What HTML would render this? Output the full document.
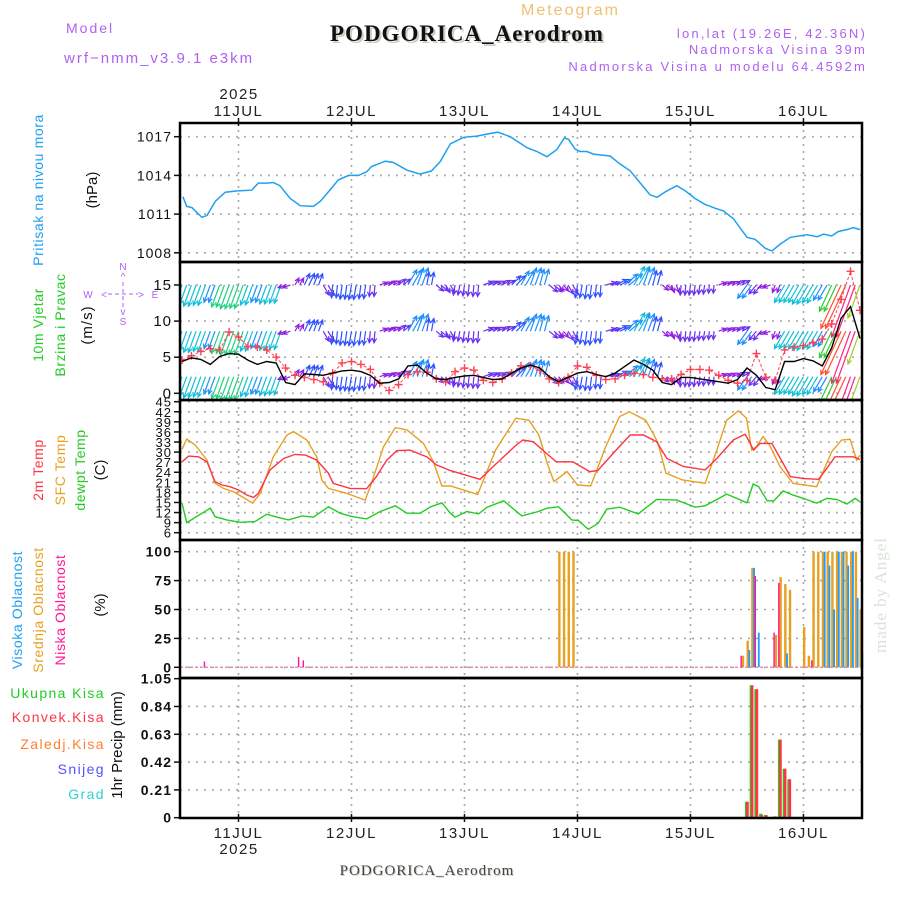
<!DOCTYPE html>
<html><head><meta charset="utf-8"><style>
html,body{margin:0;padding:0;background:#fff;}
svg{display:block;font-family:"Liberation Sans",sans-serif;}
</style></head><body>
<svg id="chart" xmlns="http://www.w3.org/2000/svg" width="900" height="900" viewBox="0 0 900 900">
<defs><clipPath id="windClip"><rect x="180" y="262" width="682" height="138"/></clipPath></defs>
<g id="grid"></g>
<g id="marks"></g>
<g id="frames"></g>
<g id="labels" font-family="Liberation Sans, sans-serif">
  <text x="66" y="33" fill="#b060f0" font-size="14" letter-spacing="2">Model</text>
  <text x="64" y="63" fill="#b060f0" font-size="15" letter-spacing="2">wrf−nmm_v3.9.1 e3km</text>
  <text x="521" y="15" fill="#f0c070" font-size="16" letter-spacing="2">Meteogram</text>
  <text x="332" y="43" fill="#c8d0c0" font-size="23" font-weight="bold" font-family="Liberation Serif, serif" letter-spacing="1">PODGORICA_Aerodrom</text>
  <text x="330" y="41" fill="#111" font-size="23" font-weight="bold" font-family="Liberation Serif, serif" letter-spacing="1">PODGORICA_Aerodrom</text>
  <text x="867" y="38" fill="#b060f0" font-size="13" letter-spacing="2.2" text-anchor="end">lon,lat (19.26E, 42.36N)</text>
  <text x="867" y="54" fill="#b060f0" font-size="13" letter-spacing="2.2" text-anchor="end">Nadmorska Visina 39m</text>
  <text x="867" y="71" fill="#b060f0" font-size="13" letter-spacing="2.2" text-anchor="end">Nadmorska Visina u modelu 64.4592m</text>
  <text x="239" y="99" font-size="15" letter-spacing="1.5" text-anchor="middle" fill="#222">2025</text>
  <text x="239" y="854" font-size="15" letter-spacing="1.5" text-anchor="middle" fill="#222">2025</text>
  <text x="428" y="876" fill="#c8d0c0" font-size="15" font-family="Liberation Serif, serif" letter-spacing="1" text-anchor="middle">PODGORICA_Aerodrom</text>
  <text x="427" y="875" fill="#444" font-size="15" font-family="Liberation Serif, serif" letter-spacing="1" text-anchor="middle">PODGORICA_Aerodrom</text>
  <text transform="translate(43,190) rotate(-90)" text-anchor="middle" fill="#1ea0f0" font-size="14" letter-spacing="0.6">Pritisak na nivou mora</text>
  <text transform="translate(97,190) rotate(-90)" text-anchor="middle" fill="#111" font-size="15">(hPa)</text>
  <text transform="translate(43,325) rotate(-90)" text-anchor="middle" fill="#22cc22" font-size="14" letter-spacing="0.6">10m Vjetar</text>
  <text transform="translate(65,325) rotate(-90)" text-anchor="middle" fill="#22cc22" font-size="14" letter-spacing="0.6">Brzina i Pravac</text>
  <text transform="translate(92,325) rotate(-90)" text-anchor="middle" fill="#111" font-size="15" letter-spacing="1">(m/s)</text>
  <g fill="#b060f0" font-size="10">
    <text x="123" y="270" text-anchor="middle">N</text>
    <text x="123" y="280" text-anchor="middle">^</text>
    <text x="88" y="298" text-anchor="middle">W</text>
    <text x="155" y="298" text-anchor="middle">E</text>
    <text x="104" y="298" text-anchor="middle">&lt;</text>
    <text x="141" y="298" text-anchor="middle">&gt;</text>
    <text x="123" y="315" text-anchor="middle">v</text>
    <text x="123" y="325" text-anchor="middle">S</text>
    <line x1="108" y1="294" x2="138" y2="294" stroke="#b060f0" stroke-dasharray="4 3"/>
    <line x1="123" y1="282" x2="123" y2="308" stroke="#b060f0" stroke-dasharray="4 3"/>
  </g>
  <text transform="translate(43,470) rotate(-90)" text-anchor="middle" fill="#ff3344" font-size="14" letter-spacing="0.6">2m Temp</text>
  <text transform="translate(65,470) rotate(-90)" text-anchor="middle" fill="#e8a020" font-size="14" letter-spacing="0.6">SFC Temp</text>
  <text transform="translate(85,470) rotate(-90)" text-anchor="middle" fill="#22cc22" font-size="14" letter-spacing="0.6">dewpt Temp</text>
  <text transform="translate(105,470) rotate(-90)" text-anchor="middle" fill="#111" font-size="15">(C)</text>
  <text transform="translate(22,610) rotate(-90)" text-anchor="middle" fill="#1ea0f0" font-size="14" letter-spacing="0.6">Visoka Oblacnost</text>
  <text transform="translate(43,610) rotate(-90)" text-anchor="middle" fill="#e8a020" font-size="14" letter-spacing="0.6">Srednja Oblacnost</text>
  <text transform="translate(65,610) rotate(-90)" text-anchor="middle" fill="#ff1493" font-size="14" letter-spacing="0.6">Niska Oblacnost</text>
  <text transform="translate(105,605) rotate(-90)" text-anchor="middle" fill="#111" font-size="15">(%)</text>
  <g font-size="14" letter-spacing="1.4" text-anchor="end">
    <text x="105" y="698" fill="#22cc22">Ukupna  Kisa</text>
    <text x="105" y="722" fill="#ff3344">Konvek.Kisa</text>
    <text x="105" y="749" fill="#ff7f30">Zaledj.Kisa</text>
    <text x="105" y="774" fill="#5050ff">Snijeg</text>
    <text x="105" y="799" fill="#30d0d0">Grad</text>
  </g>
  <text transform="translate(122,745) rotate(-90)" text-anchor="middle" fill="#111" font-size="15">1hr Precip (mm)</text>
  <text transform="translate(886,595) rotate(-90)" text-anchor="middle" fill="#d8e4d8" font-size="17" font-family="Liberation Serif, serif" letter-spacing="1">made by Angel</text>
</g>
</svg>
<script>
// ---------- data ----------
var dayLabels = ["11JUL","12JUL","13JUL","14JUL","15JUL","16JUL"];
var pressureTicks = [1008,1011,1014,1017];
var windTicks = [0,5,10,15];
var tempTicks = [6,9,12,15,18,21,24,27,30,33,36,39,42,45];
var cloudTicks = [0,25,50,75,100];
var precipTicks = [0,0.21,0.42,0.63,0.84,1.05];

var pressureHours = [-11.8,-11,-9.9,-7.8,-6.7,-4.9,-2.8,-0.3,2.8,4.2,6,7.4,8.8,11,13.1,15.9,17.4,19.5,21.2,23.4,25.5,27.3,28.3,31.2,32.9,35.8,38.6,41,42.8,45,47.8,50.6,52.7,55.1,57.7,61.3,63.4,65.5,67.6,69.2,70.1,71.5,72.6,74,75.4,78.9,81,83.2,85.7,87.4,88.9,91,93.1,94.9,97,99.1,101.3,103,105.1,108,109.7,111.9,113.3,115,117.2,120.7,122.9,124.3,126,127.4,129.2,130.6,132];
var pressureValues = [1012.35,1011.6,1011.5,1010.75,1010.9,1012.0,1012.7,1012.8,1012.85,1013.4,1013.4,1013.45,1013.2,1012.2,1011.65,1011.6,1012.0,1012.9,1013.65,1014.0,1014.0,1014.3,1014.7,1015.1,1015.0,1014.4,1014.1,1014.35,1015.05,1016.45,1016.95,1017.05,1017.2,1017.35,1017.0,1016.15,1015.85,1015.45,1016.0,1016.9,1016.8,1016.05,1015.85,1015.85,1015.65,1015.5,1014.9,1014.35,1013.25,1012.5,1012.3,1012.8,1013.2,1012.8,1012.2,1011.75,1011.45,1011.25,1010.65,1009.2,1009.05,1008.35,1008.15,1008.65,1009.2,1009.4,1009.25,1009.45,1009.3,1009.65,1009.8,1009.95,1009.8];

var windStartHour = -12, windStepHours = 2;
var windSpeed = [4.4,4.9,4.7,4.0,5.1,5.5,5.4,4.6,4.0,4.4,
 4.2,1.5,1.2,2.7,2.6,2.5,2.8,3.1,3.2,3.0,
 2.5,1.4,1.5,2.0,3.8,3.9,2.8,2.0,1.9,2.2,
 2.4,2.5,2.2,1.9,2.0,2.8,3.5,3.9,3.5,2.3,
 1.6,2.2,2.8,3.0,2.6,2.3,2.8,3.7,4.6,4.0,
 3.2,1.5,1.2,2.2,2.2,2.0,1.8,1.6,1.4,1.9,
 3.5,2.5,0.8,0.5,4.4,4.4,4.8,4.5,3.8,6.3,
 10.4,12.0,7.6];
var windGust = [4.6,5.2,5.8,6.2,6.0,8.5,7.8,6.5,6.4,6.0,
 5.0,3.5,2.5,2.2,1.9,1.6,2.8,4.2,4.4,4.0,
 3.3,1.4,0.4,1.2,2.6,3.0,2.9,2.0,1.6,3.0,
 3.5,3.2,1.8,1.5,2.0,2.8,3.8,3.8,3.2,2.0,
 1.5,2.2,3.8,3.6,2.5,1.9,2.0,2.5,2.8,2.6,
 2.2,2.0,2.0,2.6,3.3,3.3,3.2,2.5,1.8,1.4,
 1.8,5.5,2.2,1.8,6.0,6.4,6.6,7.0,7.5,9.6,
 13.0,16.9,11.5];
var windDir = [250,250,250,250,250,250,250,250,250,250,
 250,200,60,65,70,300,265,262,260,262,
 265,20,30,40,60,70,80,320,300,260,
 262,265,20,25,30,45,60,70,75,320,
 310,300,260,262,265,15,25,40,60,70,
 75,320,290,265,262,262,265,20,25,30,
 235,230,200,250,240,240,240,240,240,245,
 245,250,250];
var windRowLevels = [15, 8.6, 2.3];

var t2m = [[-12,27.1],[-10.6,28.8],[-8.5,28.6],[-6.7,27.1],[-5,21.2],[-3.5,20.2],[-1.8,19.7],[0,18.7],[1.8,17.2],[3.2,16.5],[4.2,17.7],[6.7,24.7],[9.6,28.1],[12,29.3],[14.2,29.1],[16.6,27.6],[19.1,23.7],[20.1,20.7],[23.7,19.2],[27.2,19.1],[29.3,22.7],[31.5,27.6],[33.6,30.4],[36.4,30.6],[40,28.6],[42,26.2],[45,24.5],[51.3,21.9],[54.1,25.7],[59,32.1],[60.4,33.6],[62.6,33.1],[65.4,29.6],[67.5,27.1],[71,27.1],[74.6,24.2],[76.3,24.5],[80.2,30.6],[83.2,35.1],[86,35.1],[88.8,33.1],[91,28.1],[94.5,25.7],[99.1,24.7],[101.6,28.1],[105.1,33.6],[107.6,35.3],[108.3,33.6],[109.4,30.6],[110.8,32.6],[113.3,32.6],[115.7,26.6],[117.2,22.7],[120,22.1],[123.2,21.9],[125,25.2],[126.7,28.6],[130.6,28.6],[132,27.8]];
var tSfc = [[-12,30.8],[-11,33.9],[-9.2,32.1],[-6.7,27.6],[-5,20.7],[-3.2,19.2],[-1.1,18.2],[1,16.5],[3,14.8],[4.6,17.7],[7.4,28.6],[10.3,35.1],[11.7,36.1],[14.5,33.6],[16.6,28.6],[17.7,21.7],[19.1,19.2],[23,17.7],[26.9,15.7],[28,19.7],[30.8,31.6],[33.3,37.3],[35.8,36.6],[39.3,32.6],[41.4,27.1],[43.2,19.9],[45,19.9],[50.8,17.4],[54.6,30.6],[58.9,40.1],[61.7,39.5],[63.8,35.1],[65.6,26.6],[67,21.2],[69.8,24.2],[72,20.2],[74.8,19.9],[78,31.6],[80.9,40.5],[83,42],[86.5,39.5],[89,33.1],[90.8,23.7],[94.3,21.7],[99.1,20.7],[101.6,30.6],[103.7,39.5],[106.2,42.3],[107.9,40.1],[109,30.6],[110,31.6],[111.4,34.6],[112.8,32.1],[115,25.7],[117.8,20.7],[122.8,19.7],[126,30.1],[128.1,33.6],[129.9,33.8],[131.3,27.6],[132,29.1]];
var tDew = [[-12,14.8],[-11,9],[-6,13.3],[-5,10.8],[-2.5,9.8],[0.4,9.1],[3.5,9.3],[6,11.5],[8.2,10.6],[10.6,9.8],[13.5,11],[15.9,10.6],[19.1,13.7],[21.6,11.8],[24.1,10.8],[27.2,10.1],[30.1,12.3],[33.3,14],[35.8,11.8],[38.6,11.8],[40.8,13.7],[43.2,14.9],[45,11.8],[46,10.6],[48.5,12.3],[51,11.6],[52.8,13.6],[56.3,15.5],[60.2,11],[63.7,12.3],[65.5,13.3],[68,13.7],[70.8,9.8],[72.2,9.6],[74.3,7],[76.4,8.8],[78.2,13],[81,13.6],[84.9,11.6],[88.8,15.9],[93.1,15.7],[97,13.6],[99.1,14],[103.7,17.5],[108,14.9],[109.3,20.5],[110.5,19.7],[112.3,15.5],[113.7,15.5],[115.7,18.4],[117.8,17.2],[120,16.2],[122.8,14.8],[125,16.2],[127.1,15.9],[129.2,14.5],[131,16.2],[132,15.2]];

var cloudHours = [-7,13,14,68,69,70,71,107,108,109,110,114,115,116,117,120,121,122,123,124,125,126,127,128,129,130,131,132];
var cloudHigh  = [0,0,0,0,0,0,0,0,15,86,30,0,0,12,0,0,0,0,0,100,88,50,100,100,88,100,60,12];
var cloudMid   = [0,0,0,100,100,100,100,10,23,86,0,28,78,72,67,35,10,100,100,100,100,100,100,100,100,100,100,50];
var cloudLow   = [5,9,6,0,0,0,0,10,0,0,79,30,73,0,0,0,0,6,0,0,0,0,0,0,0,0,0,0];

var precipHours = [108,109,110,111,112,114,115,116,117];
var precipTotal = [0.12,1.0,0.97,0.03,0.02,0.01,0.59,0.37,0.29];
var precipConv  = [0.12,1.0,0.97,0.02,0.02,0.0,0.59,0.37,0.29];

// ---------- scales ----------
var L = 180, R = 862;
function X(h){ return 238.5 + h * 4.708; }
function yP(v){ return 136.7 + (1017 - v) * 12.9; }
function yW(v){ return 393.3 - v * 7.22; }
function yT(v){ return 532.7 - (v - 6) * 3.359; }
function yC(v){ return 667.3 - v * 1.156; }
function yR(v){ return 817.7 - v * 132.4; }

var NS = "http://www.w3.org/2000/svg";
function mk(tag, attrs, parent){
  var e = document.createElementNS(NS, tag);
  for (var k in attrs) e.setAttribute(k, attrs[k]);
  parent.appendChild(e);
  return e;
}
var grid = document.getElementById("grid");
var marks = document.getElementById("marks");
var frames = document.getElementById("frames");
var labels = document.getElementById("labels");

var panels = [
  {top:123, bot:262, ticks:pressureTicks, y:yP, fmt:function(v){return String(v);}, name:"pressure", bold:false, fs:14},
  {top:262, bot:400, ticks:windTicks, y:yW, fmt:function(v){return String(v);}, name:"wind", bold:false, fs:15},
  {top:400, bot:540, ticks:tempTicks, y:yT, fmt:function(v){return String(v);}, name:"temp", bold:false, fs:13},
  {top:540, bot:678, ticks:cloudTicks, y:yC, fmt:function(v){return String(v);}, name:"cloud", bold:true, fs:14},
  {top:678, bot:818, ticks:precipTicks, y:yR, fmt:function(v){return v===0?"0":v.toFixed(2);}, name:"precip", bold:true, fs:14}
];

panels.forEach(function(p){
  p.ticks.forEach(function(t){
    var y = p.y(t);
    var gl = mk("line",{x1:L,x2:R,y1:y,y2:y,stroke:"#a8a8a8","stroke-width":1.6,"stroke-dasharray":"2 6"},grid);
    
    
    var tk = mk("line",{x1:L-6,x2:L,y1:y,y2:y,stroke:"#111","stroke-width":1.5},frames);
    
    
    var tx = mk("text",{x:L-8,y:y+5,"text-anchor":"end","font-size":p.fs,"font-weight":p.bold?"bold":"normal","letter-spacing":"1",fill:"#111"},labels);
    tx.textContent = p.fmt(t);
    
    
  });
  dayLabels.forEach(function(d,i){
    var x = X(i*24);
    var vl = mk("line",{x1:x,x2:x,y1:p.top,y2:p.bot,stroke:"#a8a8a8","stroke-width":1.6,"stroke-dasharray":"2 5"},grid);
    
    
  });
  var fr = mk("rect",{x:L,y:p.top,width:R-L,height:p.bot-p.top,fill:"none",stroke:"#000","stroke-width":2.5},frames);
  
  
});

dayLabels.forEach(function(d,i){
  var x = X(i*24);
  var t1 = mk("text",{x:x,y:116,"text-anchor":"middle","font-size":15,"letter-spacing":"1.5",fill:"#222"},labels);
  t1.textContent = d;
  
  
  var t2 = mk("text",{x:x,y:838,"text-anchor":"middle","font-size":15,"letter-spacing":"1.5",fill:"#222"},labels);
  t2.textContent = d;
  
  
  var tt = mk("line",{x1:x,x2:x,y1:118,y2:126,stroke:"#111","stroke-width":1.5},frames);
  
  
  var tb = mk("line",{x1:x,x2:x,y1:814,y2:822,stroke:"#111","stroke-width":1.5},frames);
  
  
});

function pathFrom(hours, vals, yf){
  var d = "";
  for (var i=0;i<hours.length;i++) d += (i?"L":"M") + X(hours[i]).toFixed(1) + "," + yf(vals[i]).toFixed(1);
  return d;
}
function pathPairs(pairs, yf){
  return pairs.map(function(p,i){ return (i?"L":"M") + X(p[0]).toFixed(1) + "," + yf(p[1]).toFixed(1); }).join("");
}

// pressure
var pl = mk("path",{d:pathFrom(pressureHours,pressureValues,yP),fill:"none",stroke:"#1ea0f0","stroke-width":1.5},marks);



// wind
function speedColor(s){
  if (s < 1.7) return "#9020e0";
  if (s < 2.6) return "#6a30f0";
  if (s < 3.4) return "#3050ff";
  if (s < 4.1) return "#1e90ff";
  if (s < 5.0) return "#10c0d8";
  if (s < 5.8) return "#20d080";
  if (s < 7.0) return "#30cc30";
  if (s < 8.5) return "#a0d020";
  if (s < 10) return "#f0a020";
  if (s < 11.5) return "#ff5030";
  return "#ff2080";
}
var wg = mk("g",{"clip-path":"url(#windClip)"},marks);


function drawArrow(h, s, dir, lv){
  var len = Math.max(8, 4.6*s);
  var a = dir*Math.PI/180;
  var x0 = X(h), y0 = yW(lv);
  var x1 = x0 + len*Math.cos(a), y1 = y0 - len*Math.sin(a);
  var c = speedColor(s);
  var ar = mk("path",{d:"M"+x0.toFixed(1)+","+y0.toFixed(1)+"L"+x1.toFixed(1)+","+y1.toFixed(1)+
    "M"+(x1-5*Math.cos(a-0.45)).toFixed(1)+","+(y1+5*Math.sin(a-0.45)).toFixed(1)+"L"+x1.toFixed(1)+","+y1.toFixed(1)+
    "L"+(x1-5*Math.cos(a+0.45)).toFixed(1)+","+(y1+5*Math.sin(a+0.45)).toFixed(1),
    fill:"none",stroke:c,"stroke-width":1.2},wg);
  
  
}
windRowLevels.forEach(function(lv){
  for (var i=0;i<windSpeed.length;i++){
    var h = windStartHour + i*windStepHours;
    drawArrow(h, windSpeed[i], windDir[i], lv);
    if (i < windSpeed.length-1) drawArrow(h + windStepHours/2, windSpeed[i], windDir[i], lv);
  }
});
var windHours = windSpeed.map(function(v,i){ return windStartHour + i*windStepHours; });
var gl2 = mk("path",{d:pathFrom(windHours,windGust,yW),fill:"none",stroke:"#ff4050","stroke-width":1,"stroke-dasharray":"3 2"},wg);


windGust.forEach(function(g,i){
  var x = X(windHours[i]), y = yW(g);
  var pm = mk("path",{d:"M"+(x-4)+","+y+"H"+(x+4)+"M"+x+","+(y-4)+"V"+(y+4),stroke:"#ff4050","stroke-width":1.4},wg);
  
  
});
var sl = mk("path",{d:pathFrom(windHours,windSpeed,yW),fill:"none",stroke:"#000","stroke-width":1.4},wg);



// temperatures
var sfcLine = mk("path",{d:pathPairs(tSfc,yT),fill:"none",stroke:"#e8a020","stroke-width":1.4},marks);


var t2Line = mk("path",{d:pathPairs(t2m,yT),fill:"none",stroke:"#ff3344","stroke-width":1.4},marks);


var dwLine = mk("path",{d:pathPairs(tDew,yT),fill:"none",stroke:"#22cc22","stroke-width":1.4},marks);



// clouds
var base = mk("line",{x1:L,x2:R,y1:yC(0),y2:yC(0),stroke:"#e090c0","stroke-width":1.5,"stroke-dasharray":"3 2"},marks);


cloudHours.forEach(function(h,i){
  var x = X(h);
  var series = [[cloudMid[i],"#e8a020",-0.5,2.4,"mid-cloud-bar"],[cloudHigh[i],"#1e9bff",1.5,1.8,"high-cloud-bar"],[cloudLow[i],"#ff1493",-1.8,1.4,"low-cloud-bar"]];
  series.forEach(function(s){
    if (s[0] <= 0) return;
    var b = mk("rect",{x:x+s[2],y:yC(s[0]),width:s[3],height:yC(0)-yC(s[0]),fill:s[1]},marks);
    
    
  });
});

// precipitation
precipHours.forEach(function(h,i){
  var x = X(h);
  var g = mk("rect",{x:x-2,y:yR(precipTotal[i]),width:3.5,height:yR(0)-yR(precipTotal[i]),fill:"#22cc22"},marks);
  
  
  if (precipConv[i] > 0){
    var r = mk("rect",{x:x-0.8,y:yR(precipConv[i]),width:2.6,height:yR(0)-yR(precipConv[i]),fill:"#ff3344"},marks);
    
    
  }
});
</script>
</body></html>
